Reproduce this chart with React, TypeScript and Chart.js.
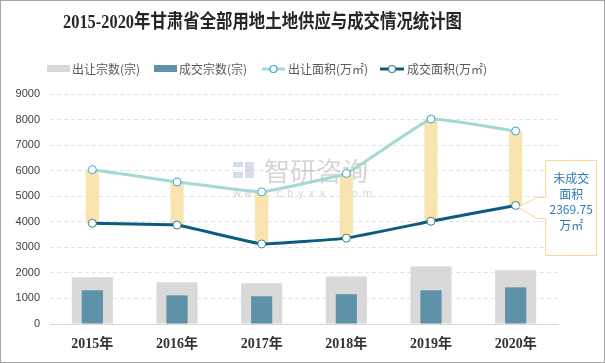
import React, { useEffect, useRef } from 'react';
import { Chart, registerables } from 'chart.js';

Chart.register(...registerables);

const years = ['2015年', '2016年', '2017年', '2018年', '2019年', '2020年'];
const supplyCount = [1830, 1630, 1590, 1860, 2250, 2100];
const dealCount = [1320, 1120, 1085, 1165, 1320, 1435];
const supplyArea = [6040, 5560, 5170, 5890, 8020, 7550];
const dealArea = [3940, 3870, 3130, 3360, 4020, 4640];
const yMax = 9000;
const yStep = 1000;
const titleText = '2015-2020年甘肃省全部用地土地供应与成交情况统计图';
const calloutLines = ['未成交', '面积', '2369.75', '万㎡'];
const legendLabels = ['出让宗数(宗)', '成交宗数(宗)', '出让面积(万㎡)', '成交面积(万㎡)'];

const C_SUPPLY_BAR = '#d9d9d9';
const C_DEAL_BAR = '#5e92a9';
const C_GAP = '#f9e4b0';
const C_SUPPLY_LINE = '#a3d9d3';
const C_DEAL_LINE = '#0b5c7e';
const CJK = '"Noto Sans CJK SC", sans-serif';
const SERIF = '"Liberation Serif", "Noto Sans CJK SC", serif';

const decorPlugin = {
  id: 'decor',
  beforeDraw(chart: any) {
    const ctx = chart.ctx;
    ctx.save();
    ctx.fillStyle = '#ffffff';
    ctx.fillRect(0, 0, chart.width, chart.height);
    ctx.strokeStyle = '#a6a6a6';
    ctx.lineWidth = 1;
    ctx.strokeRect(0.5, 0.5, chart.width - 1, chart.height - 1);

    // title
    ctx.font = `bold 19px ${SERIF}`;
    ctx.fillStyle = '#262626';
    ctx.textBaseline = 'middle';
    ctx.textAlign = 'left';
    const w = ctx.measureText(titleText).width;
    const target = 399;
    ctx.save();
    ctx.translate(63, 23);
    ctx.scale(target / w, 1);
    ctx.fillText(titleText, 0, 0);
    ctx.restore();

    // legend
    const ly = 69;
    ctx.font = `12px ${CJK}`;
    ctx.textBaseline = 'middle';
    ctx.fillStyle = C_SUPPLY_BAR;
    ctx.fillRect(47, ly - 4, 23, 7);
    ctx.fillStyle = '#595959';
    ctx.fillText(legendLabels[0], 72, ly);
    ctx.fillStyle = C_DEAL_BAR;
    ctx.fillRect(154, ly - 4, 23, 7);
    ctx.fillStyle = '#595959';
    ctx.fillText(legendLabels[1], 179, ly);
    const lineItem = (x0: number, x1: number, col: string, pcol: string, tx: number, label: string) => {
      ctx.strokeStyle = col;
      ctx.lineWidth = 3;
      ctx.beginPath();
      ctx.moveTo(x0, ly);
      ctx.lineTo(x1, ly);
      ctx.stroke();
      ctx.beginPath();
      ctx.arc((x0 + x1) / 2, ly, 3.5, 0, Math.PI * 2);
      ctx.fillStyle = '#ffffff';
      ctx.fill();
      ctx.lineWidth = 1.2;
      ctx.strokeStyle = pcol;
      ctx.stroke();
      ctx.fillStyle = '#595959';
      ctx.fillText(label, tx, ly);
    };
    lineItem(262, 285, C_SUPPLY_LINE, '#3aa6d6', 288, legendLabels[2]);
    lineItem(380, 404, C_DEAL_LINE, '#3a7f96', 407, legendLabels[3]);
    ctx.restore();
  },
  beforeDatasetsDraw(chart: any) {
    const ctx = chart.ctx;
    ctx.save();
    ctx.fillStyle = 'rgba(150,170,200,0.4)';
    ctx.fillRect(233, 162, 10, 5);
    ctx.fillRect(233, 172, 10, 6);
    ctx.fillRect(245, 162, 9, 16);
    ctx.font = `26px ${CJK}`;
    ctx.fillStyle = 'rgba(165,165,165,0.45)';
    ctx.textBaseline = 'middle';
    ctx.textAlign = 'left';
    ctx.fillText('智研咨询', 264, 171);
    ctx.font = `10px "DejaVu Sans", sans-serif`;
    const s = 'www.chyxx.com';
    let x = 233;
    for (const ch of s) {
      ctx.fillText(ch, x, 194);
      x += 10.8;
    }
    ctx.restore();
  },
  afterDraw(chart: any) {
    const ctx = chart.ctx;
    const meta = chart.getDatasetMeta(4);
    const pt = meta.data[5];
    if (!pt) return;
    const px = pt.x;
    const py = pt.y;
    const L = px + 30;
    const R = px + 81;
    const T = py - 45;
    const B = py + 50;
    ctx.save();
    ctx.beginPath();
    ctx.moveTo(L, T);
    ctx.lineTo(R, T);
    ctx.lineTo(R, B);
    ctx.lineTo(L, B);
    ctx.lineTo(L, py + 13);
    ctx.lineTo(L - 9, py + 13);
    ctx.lineTo(px + 3, py + 2);
    ctx.lineTo(L - 9, py - 8);
    ctx.lineTo(L, py - 8);
    ctx.closePath();
    ctx.fillStyle = '#ffffff';
    ctx.fill();
    ctx.strokeStyle = '#f6d98e';
    ctx.lineWidth = 1;
    ctx.stroke();
    ctx.fillStyle = '#2f7bb0';
    ctx.font = `12px ${CJK}`;
    ctx.textAlign = 'center';
    ctx.textBaseline = 'middle';
    const cx = (L + R) / 2;
    const offs = [18, 34, 49, 65];
    calloutLines.forEach((t, i) => ctx.fillText(t, cx, T + offs[i]));
    ctx.restore();
  },
};

export default function App() {
  const ref = useRef<HTMLCanvasElement>(null);
  useEffect(() => {
    if (!ref.current) return;
    const chart = new Chart(ref.current, {
      type: 'bar',
      data: {
        labels: years,
        datasets: [
          {
            type: 'bar',
            label: legendLabels[0],
            data: supplyCount,
            backgroundColor: C_SUPPLY_BAR,
            grouped: false,
            barPercentage: 0.485,
            categoryPercentage: 1,
            order: 4,
          },
          {
            type: 'bar',
            label: legendLabels[1],
            data: dealCount,
            backgroundColor: C_DEAL_BAR,
            grouped: false,
            barPercentage: 0.25,
            categoryPercentage: 1,
            order: 3,
          },
          {
            type: 'bar',
            label: 'gap',
            data: dealArea.map((d, i) => [d, supplyArea[i]]) as any,
            backgroundColor: C_GAP,
            grouped: false,
            barPercentage: 0.155,
            categoryPercentage: 1,
            order: 2,
          },
          {
            type: 'line',
            label: legendLabels[2],
            data: supplyArea,
            borderColor: C_SUPPLY_LINE,
            borderWidth: 3,
            pointRadius: 4,
            pointBackgroundColor: '#ffffff',
            pointBorderColor: '#3aa6d6',
            pointBorderWidth: 1,
            tension: 0.08,
            order: 0,
          },
          {
            type: 'line',
            label: legendLabels[3],
            data: dealArea,
            borderColor: C_DEAL_LINE,
            borderWidth: 3,
            pointRadius: 4,
            pointBackgroundColor: '#ffffff',
            pointBorderColor: '#3a7f96',
            pointBorderWidth: 1,
            tension: 0.08,
            order: 1,
          },
        ] as any,
      },
      options: {
        responsive: false,
        animation: false,
        layout: { padding: { top: 94, right: 47, left: 0, bottom: 0 } },
        plugins: {
          legend: { display: false },
          title: { display: false },
          tooltip: { enabled: false },
        },
        scales: {
          x: {
            grid: { display: false, drawTicks: false },
            border: { display: true, color: '#d9d9d9', width: 1 },
            ticks: {
              color: '#333333',
              padding: 12,
              font: { family: SERIF, size: 14, weight: 'bold' },
            },
            afterFit: (s: any) => {
              s.height = 39;
            },
          } as any,
          y: {
            min: 0,
            max: yMax,
            grid: { color: '#e3e3e3', drawTicks: false },
            border: { display: false, dash: [4, 3] },
            ticks: {
              stepSize: yStep,
              color: '#404040',
              padding: 10,
              font: { family: '"Liberation Sans", sans-serif', size: 11 },
              callback: (v: any) => String(v),
            },
            afterFit: (s: any) => {
              s.width = 50;
            },
          },
        },
      } as any,
      plugins: [decorPlugin],
    });
    return () => chart.destroy();
  }, []);
  return (
    <div style={{ position: 'absolute', left: 0, top: 0, width: 605, height: 363 }}>
      <canvas ref={ref} width={605} height={363} style={{ display: 'block' }} />
    </div>
  );
}
